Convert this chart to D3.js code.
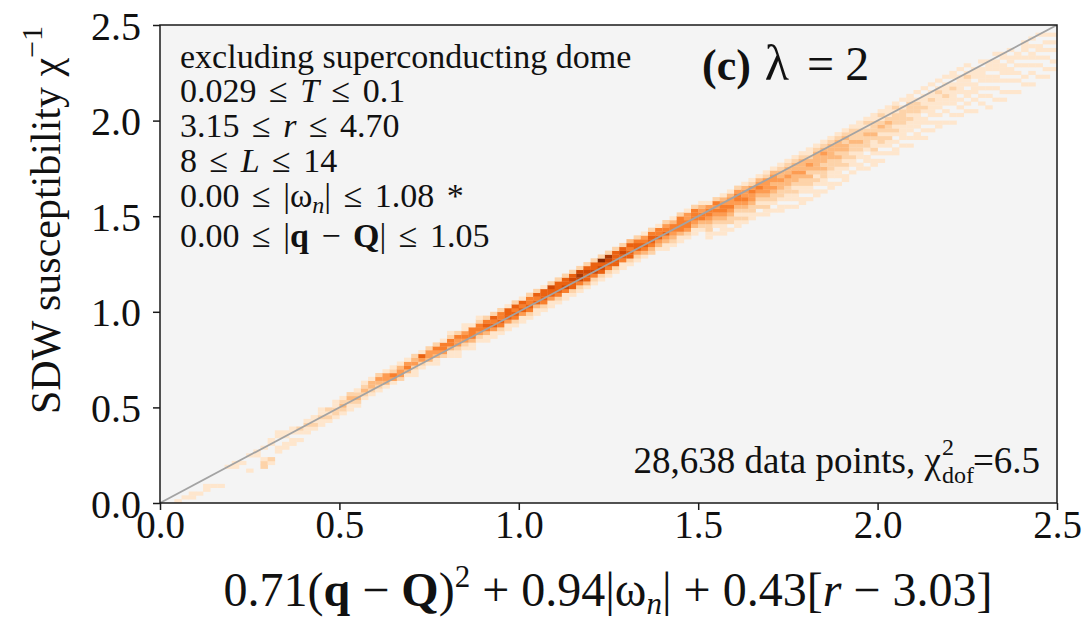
<!DOCTYPE html>
<html><head><meta charset="utf-8">
<script src="https://cdn.jsdelivr.net/npm/d3@7"></script>
<style>
body{margin:0;background:#fff;}
svg{display:block;}
text{font-family:"Liberation Serif","DejaVu Serif",serif;fill:#111;}
</style>
</head><body>
<svg id="c" width="1085" height="629"></svg>
<script>
// ---- data ----
const binSize = 0.02;               // histogram bin width (both axes)
const xTicks = [0, 0.5, 1.0, 1.5, 2.0, 2.5];
const yTicks = [0, 0.5, 1.0, 1.5, 2.0, 2.5];
const xTickLabels = ["0.0","0.5","1.0","1.5","2.0","2.5"];
const yTickLabels = ["0.0","0.5","1.0","1.5","2.0","2.5"];
const diagLine = [[0,0],[2.5,2.5]];
// one entry per x-bin column: [first y-bin index, density level per y-bin (0 = empty, 1..9)]
const heatCols = [
[0,""],[0,""],[0,"1"],[1,"1"],[1,"11"],[2,"1"],[3,"11"],[4,"1"],[4,"1"],[9,"1"],
[9,"11"],[10,"1"],[8,"10001"],[12,"11"],[9,"221001"],[10,"1200011"],[13,"110011"],[14,"11011"],[15,"11011"],[16,"1012"],
[18,"1121"],[19,"1211"],[20,"11211"],[21,"1212"],[22,"12211"],[23,"12321"],[24,"11232"],[25,"12321"],[26,"012321"],[28,"12331"],
[29,"12342"],[30,"13441"],[31,"14521"],[32,"24431"],[33,"13541"],[33,"112432"],[35,"12461"],[36,"13442"],[36,"113452"],[38,"24551"],
[38,"1135521"],[38,"1124452"],[40,"1245411"],[40,"1135551"],[42,"1245521"],[42,"1135652"],[43,"1146562"],[44,"1256552"],[45,"1146661"],[46,"1256562"],
[47,"1146561"],[48,"1256552"],[49,"1136562"],[50,"1256661"],[51,"1146672"],[52,"1256662"],[53,"1157662"],[54,"1266762"],[55,"1257872"],[56,"1366762"],
[57,"1257662"],[58,"1267692"],[59,"1256782"],[60,"1266662"],[61,"1156762"],[62,"1266563"],[63,"1246652"],[64,"1356541"],[65,"2356652"],[66,"1346551"],
[66,"11346542"],[67,"12345531"],[68,"11355552"],[69,"12455441"],[70,"11345552"],[71,"12355431"],[69,"1122345541"],[70,"1012345452"],[70,"11123455431"],[71,"10223454431"],
[72,"11212345542"],[73,"12123454431"],[74,"11223445421"],[75,"10212345431"],[75,"112123444421"],[76,"101223434431"],[76,"1101223343321"],[77,"1011223343321"],[77,"10112123343321"],[78,"11011223433321"],
[79,"10112232343211"],[80,"11012123333321"],[81,"10112232334321"],[82,"11011222333321"],[83,"10111223233321"],[84,"11012122332321"],[86,"1011212232221"],[87,"1101122322211"],[87,"10110122232121"],[88,"11012112322211"],
[89,"10101221232121"],[91,"1011212232111"],[91,"11010121222121"],[93,"1011112222101"],[93,"10101112122211"],[95,"1101111222101"],[95,"10101101211101"],[97,"1010111121101"],[97,"01101011112101"],[99,"1001011211101"],
[99,"10100111121011"],[101,"1010101111101"],[101,"01010110112101"],[102,"1001011101110"],[103,"0101010111101"],[103,"10010101101110"],[104,"01001011011101"],[105,"1010010111011"],[106,"0100101101101"],[107,"10010101011"],
[108,"0101001010111"],[109,"1001010110101"],[110,"0100101011001"],[111,"1010010101010"],[112,"0101001010100"]
];

// ---- layout ----
const FONT = "'Liberation Serif','DejaVu Serif',serif";
const L = 160, R = 1057, T = 25, B = 503;
const svg = d3.select("#c");
const x = d3.scaleLinear().domain([0, 2.5]).range([L, R]);
const y = d3.scaleLinear().domain([0, 2.5]).range([B, T]);
const color = d3.scaleSequential(v => d3.interpolateOranges(0.12 + 0.86 * v)).domain([1, 9]);

svg.append("rect").attr("x", L).attr("y", T).attr("width", R - L).attr("height", B - T).attr("fill", "#f4f4f4");

svg.append("clipPath").attr("id", "clip").append("rect")
  .attr("x", L).attr("y", T).attr("width", R - L).attr("height", B - T);

const cells = [];
heatCols.forEach(([start, s], i) => {
  for (let k = 0; k < s.length; k++) {
    const v = +s[k];
    if (v > 0) cells.push({ i, r: start + k, v });
  }
});

svg.append("g").attr("clip-path", "url(#clip)").selectAll("rect").data(cells).join("rect")
  .attr("x", d => x(d.i * binSize))
  .attr("width", d => x((d.i + 1) * binSize) - x(d.i * binSize) + 0.3)
  .attr("y", d => y((d.r + 1) * binSize))
  .attr("height", d => y(d.r * binSize) - y((d.r + 1) * binSize) + 0.3)
  .attr("fill", d => color(d.v));

svg.append("path").attr("clip-path", "url(#clip)")
  .attr("d", d3.line().x(d => x(d[0])).y(d => y(d[1]))(diagLine))
  .attr("stroke", "#a3a3a3").attr("stroke-width", 1.8).attr("fill", "none");

svg.append("rect").attr("x", L).attr("y", T).attr("width", R - L).attr("height", B - T)
  .attr("fill", "none").attr("stroke", "#1a1a1a").attr("stroke-width", 1.5);

// axes
const xAxis = d3.axisBottom(x).tickValues(xTicks).tickSize(7).tickSizeOuter(0)
  .tickFormat((d, i) => xTickLabels[i]);
const gx = svg.append("g").attr("transform", `translate(0,${B})`).call(xAxis);
gx.select(".domain").remove();
gx.selectAll("line").attr("stroke", "#1a1a1a").attr("stroke-width", 1.5);
gx.selectAll("text").attr("style", `font-family:${FONT};font-size:39px`).attr("fill", "#111").attr("y", 35).attr("dy", 0);

const yAxis = d3.axisLeft(y).tickValues(yTicks).tickSize(7).tickSizeOuter(0)
  .tickFormat((d, i) => yTickLabels[i]);
const gy = svg.append("g").attr("transform", `translate(${L},0)`).call(yAxis);
gy.select(".domain").remove();
gy.selectAll("line").attr("stroke", "#1a1a1a").attr("stroke-width", 1.5);
gy.selectAll("text").attr("style", `font-family:${FONT};font-size:40px`).attr("fill", "#111").attr("x", -19).attr("dy", 14);

// rich text helper
function rich(parent, parts, attrs) {
  const t = parent.append("text");
  Object.entries(attrs).forEach(([k, v]) => t.attr(k, v));
  parts.forEach(p => {
    const ts = t.append("tspan").text(p.t);
    if (p.b) ts.attr("font-weight", "bold");
    if (p.i) ts.attr("font-style", "italic");
    if (p.s) ts.attr("font-size", p.s);
    if (p.dy) ts.attr("dy", p.dy);
    if (p.dx) ts.attr("dx", p.dx);
  });
  return t;
}

const ann = 34;
const annLines = [
  [{t:"excluding superconducting dome"}],
  [{t:"0.029 ≤ "},{t:"T",i:1},{t:" ≤ 0.1"}],
  [{t:"3.15 ≤ "},{t:"r",i:1},{t:" ≤ 4.70"}],
  [{t:"8 ≤ "},{t:"L",i:1},{t:" ≤ 14"}],
  [{t:"0.00 ≤ |ω"},{t:"n",i:1,s:24,dy:6},{t:"| ≤ 1.08 *",dy:-6}],
  [{t:"0.00 ≤ |"},{t:"q",b:1},{t:" − "},{t:"Q",b:1},{t:"| ≤ 1.05"}]
];
const annBase = [68, 102, 137, 172, 207, 247];
annLines.forEach((parts, k) => rich(svg, parts,
  {x: 180, y: annBase[k], "font-size": ann, "word-spacing": k === 0 ? 0 : 4}));

rich(svg, [{t:"(c)",b:1},{t:"λ",dx:14,s:50},{t:"=",dx:18,s:48},{t:"2",dx:11,s:48}], {x: 702, y: 80, "font-size": 44});

// bottom-right annotation with stacked sub/superscript
(function () {
  const fs = 37, small = 24;
  const g = svg.append("g");
  const measure = (s, size) => {
    const tmp = g.append("text").attr("font-size", size).text(s);
    const w = tmp.node().getComputedTextLength(); tmp.remove(); return w;
  };
  const A = "28,638 data points, χ", C = " =6.5";
  const wA = measure(A, fs), wd = measure("dof", small), w2 = measure("2", small), wC = measure(C, fs);
  const right = 1040, base = 473;
  const x0 = right - (wA + Math.max(wd, w2) + wC);
  g.append("text").attr("x", x0).attr("y", base).attr("font-size", fs).text(A);
  g.append("text").attr("x", x0 + wA + 1).attr("y", base + 10).attr("font-size", small).text("dof");
  g.append("text").attr("x", x0 + wA + 1).attr("y", base - 18).attr("font-size", small).text("2");
  g.append("text").attr("x", x0 + wA + Math.max(wd, w2)).attr("y", base).attr("font-size", fs).text(C);
})();

// axis labels
rich(svg, [
  {t:"0.71("},{t:"q",b:1},{t:" − "},{t:"Q",b:1},{t:")"},{t:"2",s:31,dy:-19},
  {t:" + 0.94|ω",dy:19},{t:"n",i:1,s:31,dy:8},{t:"| + 0.43[",dy:-8},{t:"r",i:1},{t:" − 3.03]"}
], {x: 608, y: 606, "font-size": 48, "text-anchor": "middle"});

rich(svg, [{t:"SDW susceptibility  χ"},{t:"−1",s:30,dy:-18}],
  {transform: "translate(60,220) rotate(-90)", "font-size": 42, "text-anchor": "middle"});
</script>
</body></html>
